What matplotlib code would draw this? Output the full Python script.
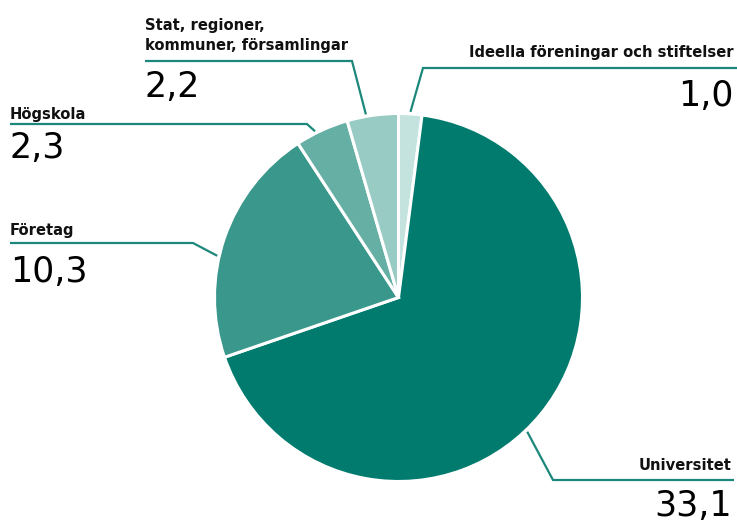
import matplotlib.pyplot as plt
import numpy as np

# data
categories = ['Ideella föreningar och stiftelser', 'Universitet', 'Företag',
              'Högskola', 'Stat, regioner,\nkommuner, församlingar']
values = [1.0, 33.1, 10.3, 2.3, 2.2]
value_labels = ['1,0', '33,1', '10,3', '2,3', '2,2']
colors = ['#c4e2de', '#007b6e', '#3a978b', '#66afa5', '#99cbc5']

W, H = 737, 523
LINE_COLOR = '#1b887b'

# label layout in pixel coords (y from top): elbow point, end x of horizontal, text x, align,
# label baseline, value baseline, angle nudge for leader anchor
layout = [
    dict(elbow=(423, 68), end=737, tx=734, ha='right', ly=57, vy=106, nudge=0),
    dict(elbow=(553, 480), end=734, tx=732, ha='right', ly=470, vy=516, nudge=-7),
    dict(elbow=(193, 243), end=10, tx=10, ha='left', ly=235, vy=282, nudge=6),
    dict(elbow=(307, 124), end=10, tx=10, ha='left', ly=119, vy=158, nudge=2),
    dict(elbow=(352, 61), end=145, tx=145, ha='left', ly=50, vy=97, nudge=2),
]

fig = plt.figure(figsize=(W / 100, H / 100), dpi=100)
ax = fig.add_axes([0, 0, 1, 1])

cx, cy, r = 398.5, H - 297.5, 184
wedges, _ = ax.pie(values, colors=colors, startangle=90, counterclock=False,
                   center=(cx, cy), radius=r, frame=True,
                   wedgeprops=dict(edgecolor='white', linewidth=2.2))
ax.set_xlim(0, W)
ax.set_ylim(0, H)
ax.set_aspect('equal')
ax.axis('off')

for w, cat, val, lay in zip(wedges, categories, value_labels, layout):
    ang = np.deg2rad((w.theta1 + w.theta2) / 2 + lay['nudge'])
    ax0 = cx + (r + 2) * np.cos(ang)
    ay0 = cy + (r + 2) * np.sin(ang)
    ex, ey = lay['elbow'][0], H - lay['elbow'][1]
    ax.plot([ax0, ex, lay['end']], [ay0, ey, ey], color=LINE_COLOR, lw=1.6,
            solid_capstyle='butt', solid_joinstyle='miter')
    ax.text(lay['tx'], H - lay['ly'], cat, ha=lay['ha'], va='baseline',
            fontsize=11.8, fontweight='bold', fontstretch='condensed',
            family='DejaVu Sans', color='#111111', linespacing=1.45)
    ax.text(lay['tx'], H - lay['vy'], val, ha=lay['ha'], va='baseline',
            fontsize=25, family='DejaVu Sans', color='#000000')

fig.savefig('out.png', dpi=100, facecolor='white')
